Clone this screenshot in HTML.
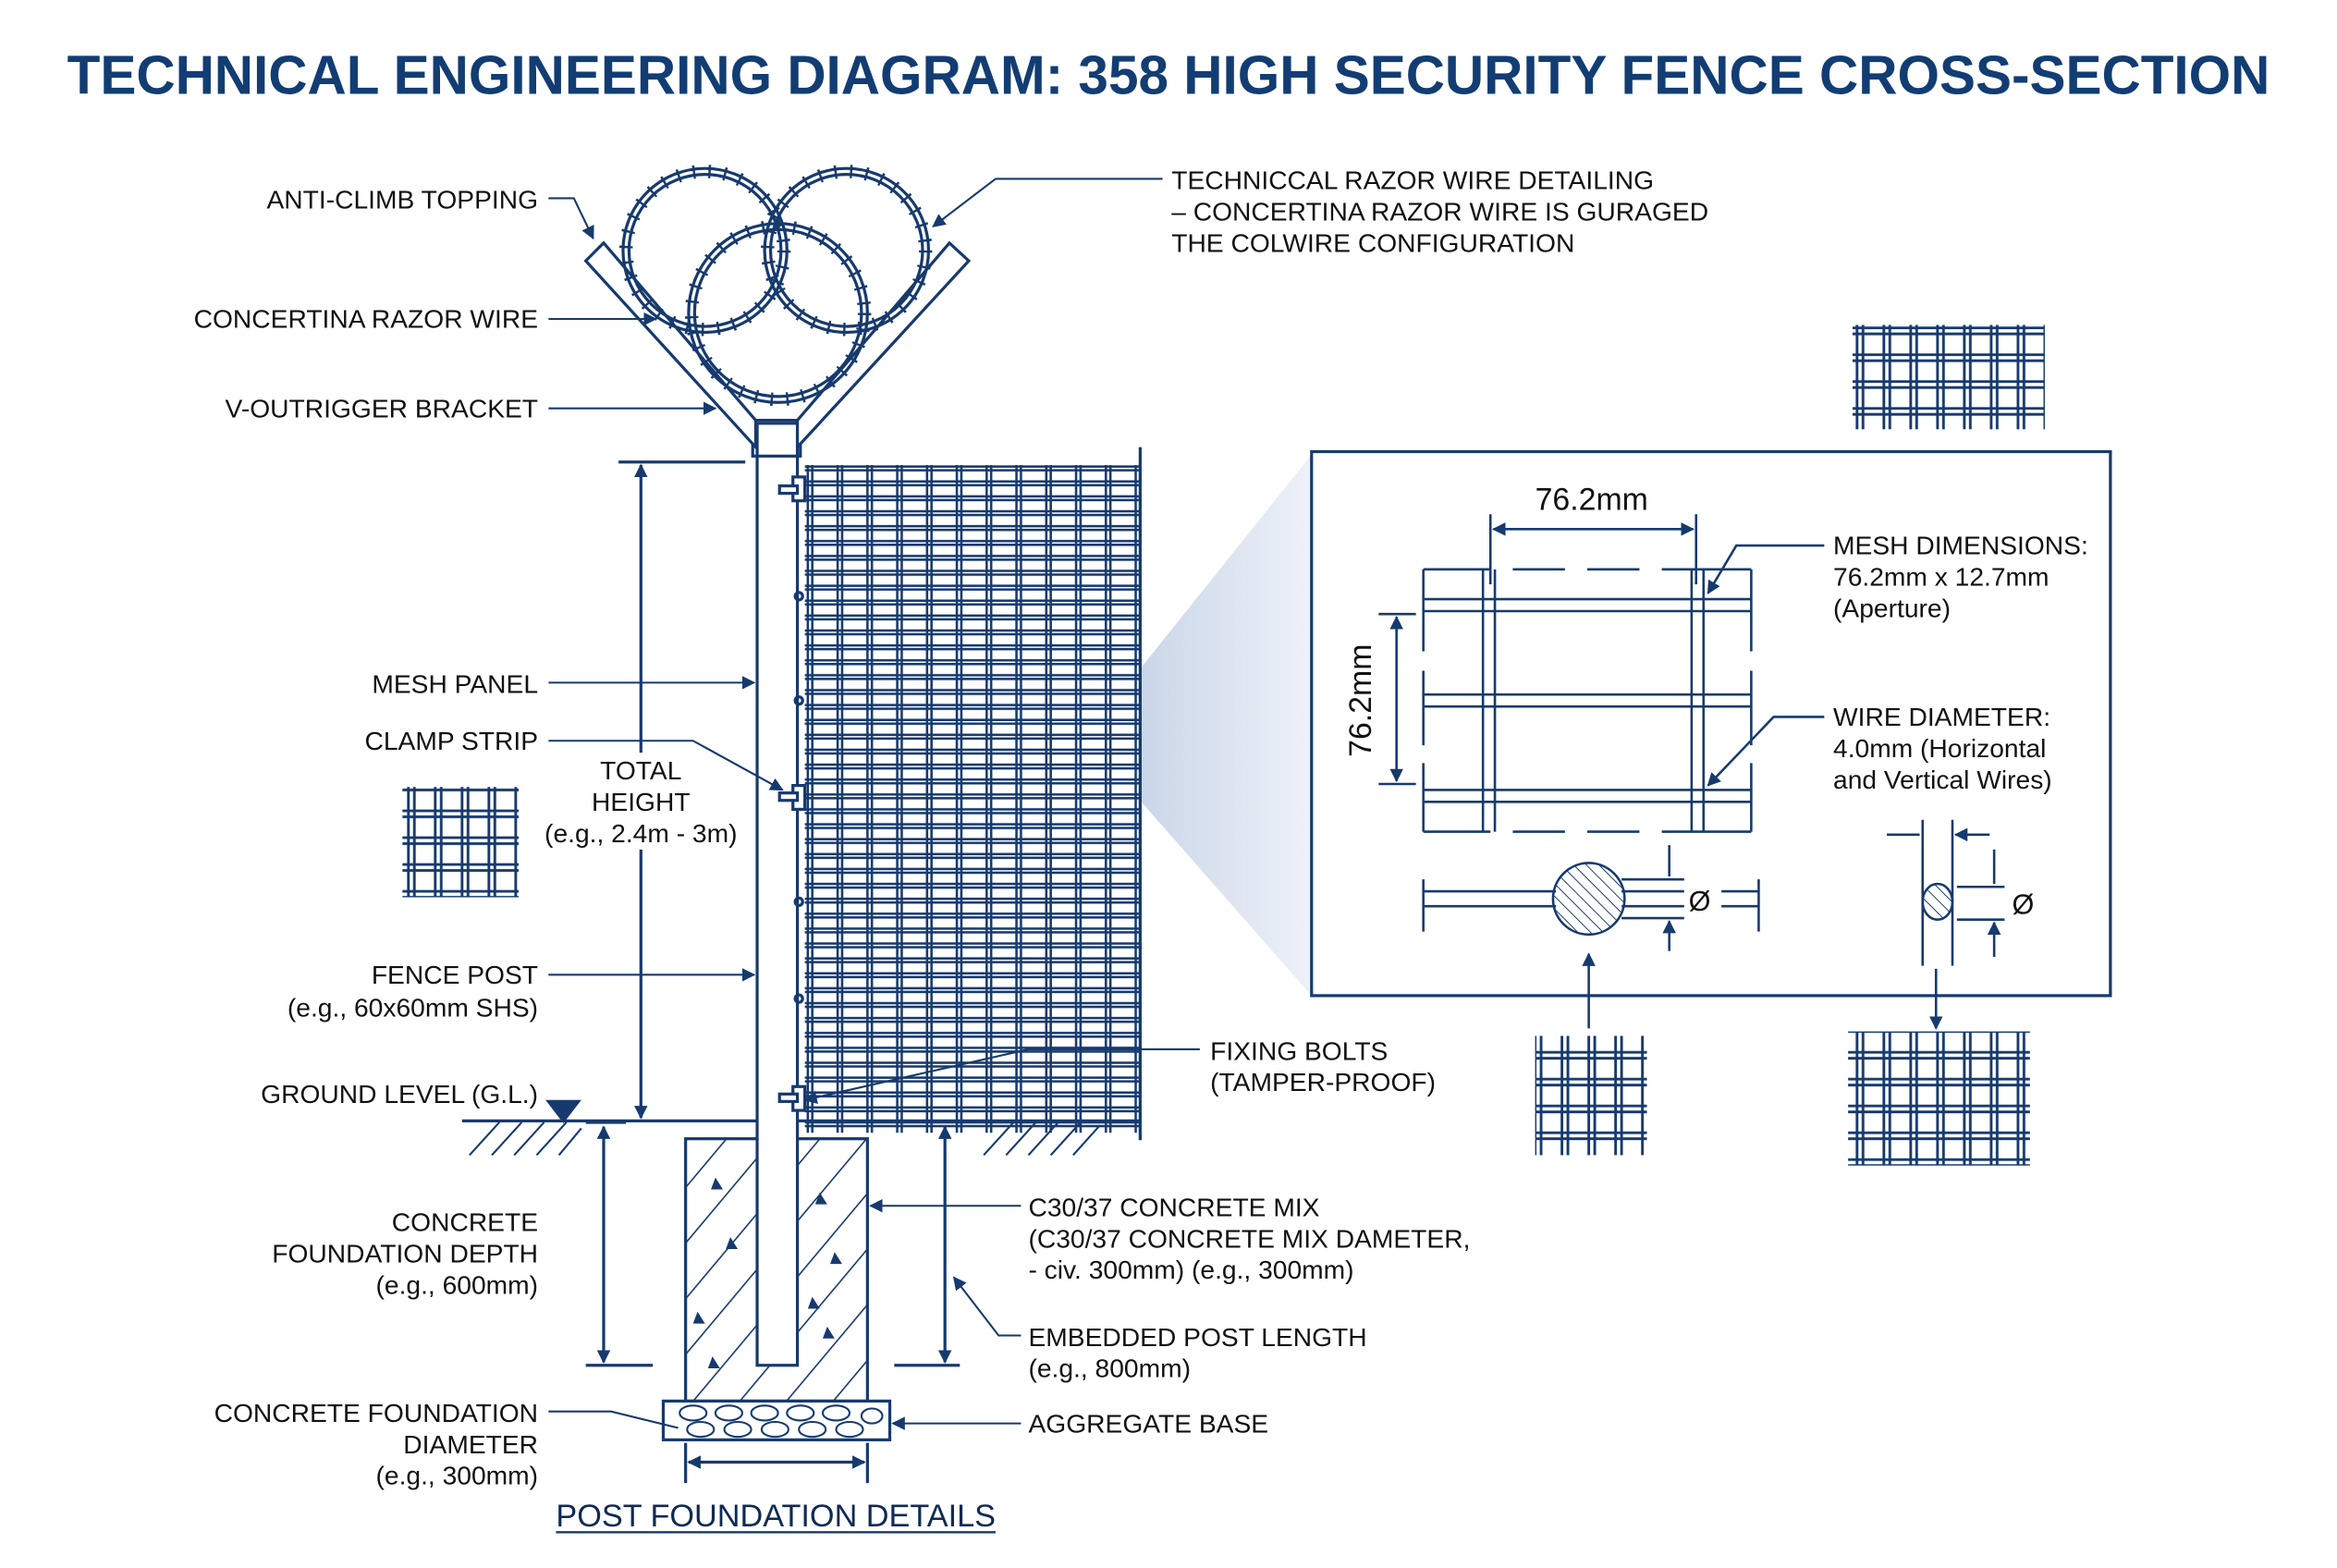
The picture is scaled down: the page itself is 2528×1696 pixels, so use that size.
<!DOCTYPE html>
<html><head><meta charset="utf-8"><style>
html,body{margin:0;padding:0;background:#fff;}
svg{display:block;}
text{font-family:"Liberation Sans",sans-serif;fill:#111;}
</style></head><body>
<svg width="2528" height="1696" viewBox="0 0 1568 1052" xmlns="http://www.w3.org/2000/svg">
<defs>
<marker id="a" viewBox="0 0 10 10" refX="9" refY="5" markerWidth="9" markerHeight="9" orient="auto-start-reverse" markerUnits="userSpaceOnUse"><path d="M0,0 L10,5 L0,10 z" fill="#173a6e"/></marker>
<pattern id="mesh" x="540" y="312" width="20" height="10" patternUnits="userSpaceOnUse"><rect x="0" y="0" width="20" height="10" fill="#fff"/><path d="M0,1 H20 M0,3.5 H20 M2,0 V10 M5,0 V10" stroke="#173a6e" stroke-width="1.6" fill="none"/></pattern>
<pattern id="hatch" width="24" height="24" patternUnits="userSpaceOnUse" patternTransform="rotate(40)"><rect width="24" height="24" fill="#fff"/><path d="M0,0 V24" stroke="#173a6e" stroke-width="2"/></pattern>
<pattern id="h2" width="6" height="6" patternUnits="userSpaceOnUse" patternTransform="rotate(-45)"><path d="M0,0 V6" stroke="#173a6e" stroke-width="1.2"/></pattern>
<pattern id="weave" width="18" height="18" patternUnits="userSpaceOnUse"><path d="M0,4 H18 M0,8 H18 M4,0 V18 M8,0 V18" stroke="#173a6e" stroke-width="1.8" fill="none"/></pattern>
<linearGradient id="wedge" x1="0" x2="1"><stop offset="0" stop-color="#8fa8cf" stop-opacity="0.6"/><stop offset="1" stop-color="#dbe3f1" stop-opacity="0.5"/></linearGradient>
</defs>
<rect width="1568" height="1052" fill="#fff"/>
<text x="784" y="63" text-anchor="middle" font-size="37" font-weight="bold" style="fill:#123d73" textLength="1478" lengthAdjust="spacingAndGlyphs">TECHNICAL ENGINEERING DIAGRAM: 358 HIGH SECURITY FENCE CROSS-SECTION</text>

<g stroke="#173a6e" fill="none" stroke-width="2">
<polygon points="728,495 880,305 880,668" fill="url(#wedge)" stroke="none"/>
<rect x="540" y="312" width="225" height="448" fill="url(#mesh)" stroke="none"/>
<path d="M765,300 V765"/>
<path d="M310,752 H765"/>
<path d="M315,775 l20,-22 M330,775 l20,-22 M345,775 l20,-22 M360,775 l20,-22 M375,775 l15,-18 M660,775 l20,-22 M675,775 l20,-22 M690,775 l20,-22 M705,775 l20,-22 M720,775 l18,-20" stroke-width="1.3"/>
<polygon points="368,739 388,739 378,752" fill="#173a6e"/>
<rect x="460" y="764" width="122" height="176" fill="url(#hatch)"/>
<g fill="#173a6e" stroke="none">
<path d="M480,790 l5,8 h-8z M490,830 l5,8 h-8z M468,880 l5,8 h-8z M478,910 l5,8 h-8z M550,800 l5,8 h-8z M560,840 l5,8 h-8z M555,890 l5,8 h-8z M545,870 l5,8 h-8z"/>
</g>
<rect x="445" y="940" width="152" height="26" fill="#fff"/>
<g stroke-width="1.3">
<ellipse cx="465" cy="948" rx="9" ry="5"/><ellipse cx="489" cy="948" rx="9" ry="5"/><ellipse cx="513" cy="948" rx="9" ry="5"/><ellipse cx="537" cy="948" rx="9" ry="5"/><ellipse cx="561" cy="948" rx="9" ry="5"/><ellipse cx="585" cy="950" rx="7" ry="5"/>
<ellipse cx="470" cy="959" rx="9" ry="5"/><ellipse cx="495" cy="959" rx="9" ry="5"/><ellipse cx="520" cy="959" rx="9" ry="5"/><ellipse cx="545" cy="959" rx="9" ry="5"/><ellipse cx="570" cy="959" rx="9" ry="5"/>
</g>
<rect x="508" y="284" width="27" height="632" fill="#fff"/>
<rect x="505" y="282" width="32" height="24" fill="none"/>
<circle cx="536" cy="400" r="2.5"/><circle cx="536" cy="470" r="2.5"/><circle cx="536" cy="605" r="2.5"/><circle cx="536" cy="670" r="2.5"/>
<g fill="#fff"><rect x="532" y="320" width="8" height="16"/><rect x="523" y="326" width="12" height="5"/>
<rect x="532" y="527" width="8" height="16"/><rect x="523" y="532" width="12" height="5"/>
<rect x="532" y="729" width="8" height="16"/><rect x="523" y="734" width="12" height="5"/></g>
<polygon points="393,175 405,163 507,282 507,300" fill="#fff"/>
<polygon points="650,175 637,163 535,282 535,300" fill="#fff"/>
<g>
<circle cx="473" cy="168" r="55"/><circle cx="473" cy="168" r="51"/><circle cx="473" cy="168" r="53" stroke-width="9" stroke-dasharray="1.5 9"/>
<circle cx="568" cy="168" r="55"/><circle cx="568" cy="168" r="51"/><circle cx="568" cy="168" r="53" stroke-width="9" stroke-dasharray="1.5 9"/>
<circle cx="522" cy="210" r="60"/><circle cx="522" cy="210" r="56"/><circle cx="522" cy="210" r="58" stroke-width="9" stroke-dasharray="1.5 9"/>
</g>
<path d="M415,310 H500"/>
<path d="M430,312 V505 M430,570 V750" marker-start="url(#a)" marker-end="url(#a)"/>
<path d="M393,753 H420 M393,916 H438"/>
<path d="M405,756 V914" marker-start="url(#a)" marker-end="url(#a)"/>
<path d="M600,916 H644"/>
<path d="M634,756 V914" marker-start="url(#a)" marker-end="url(#a)"/>
<path d="M460,968 V995 M582,968 V995"/>
<path d="M462,981 H580" marker-start="url(#a)" marker-end="url(#a)"/>
<path d="M373,1028 H668" stroke-width="1.5"/>
<g stroke-width="1.3">
<path d="M368,133 H385 L398,160" marker-end="url(#a)"/>
<path d="M368,214 H440" marker-end="url(#a)"/>
<path d="M368,274 H480" marker-end="url(#a)"/>
<path d="M368,458 H506" marker-end="url(#a)"/>
<path d="M368,497 H465 L525,530" marker-end="url(#a)"/>
<path d="M368,654 H506" marker-end="url(#a)"/>
<path d="M368,947 H410 L455,958"/>
<path d="M780,120 H668 L626,152" marker-end="url(#a)"/>
<path d="M805,704 H690 L540,738" marker-end="url(#a)"/>
<path d="M685,809 H584" marker-end="url(#a)"/>
<path d="M685,896 H670 L640,857" marker-end="url(#a)"/>
<path d="M685,955 H599" marker-end="url(#a)"/>
</g>
<rect x="880" y="303" width="536" height="365" fill="none"/>
<g stroke-width="1.6">
<path d="M955,382 H1000 M1015,382 H1050 M1065,382 H1100 M1115,382 H1175 M955,558 H1000 M1015,558 H1050 M1065,558 H1100 M1115,558 H1175"/>
<path d="M955,382 V437 M955,450 V500 M955,512 V558 M1175,382 V437 M1175,450 V500 M1175,512 V558"/>
<path d="M955,402 H1175 M955,410 H1175 M955,466 H1175 M955,474 H1175 M955,530 H1175 M955,538 H1175"/>
<path d="M995,382 V558 M1003,382 V558 M1135,382 V558 M1143,382 V558"/>
<path d="M1000,345 V392 M1138,345 V392"/>
<path d="M1002,355 H1136" marker-start="url(#a)" marker-end="url(#a)"/>
<path d="M925,412 H950 M925,526 H950"/>
<path d="M937,414 V524" marker-start="url(#a)" marker-end="url(#a)"/>
<path d="M1224,366 H1165 L1146,398" marker-end="url(#a)"/>
<path d="M1224,481 H1190 L1146,527" marker-end="url(#a)"/>
<path d="M955,598 H1044 M955,608 H1044 M1088,590 H1130 M1088,598 H1130 M1088,608 H1130 M1088,616 H1130 M1155,598 H1180 M1155,608 H1180"/>
<path d="M955,590 V625 M1180,590 V625"/>
<ellipse cx="1066" cy="603" rx="24" ry="24" fill="url(#h2)"/>
<path d="M1120,567 V588 M1120,638 V618" marker-end="url(#a)"/>
<path d="M1066,690 V640" marker-end="url(#a)"/>
<path d="M1290,550 V648 M1310,550 V648"/>
<ellipse cx="1300" cy="605" rx="10" ry="12" fill="url(#h2)"/>
<path d="M1266,560 H1288 M1335,560 H1312" marker-end="url(#a)"/>
<path d="M1313,595 H1345 M1313,617 H1345"/>
<path d="M1338,570 V593 M1338,642 V619" marker-end="url(#a)"/>
<path d="M1299,650 V690" marker-end="url(#a)"/>
</g>
<rect x="1243" y="218" width="129" height="70" fill="url(#weave)" stroke="none"/>
<rect x="270" y="528" width="78" height="74" fill="url(#weave)" stroke="none"/>
<rect x="1030" y="695" width="75" height="80" fill="url(#weave)" stroke="none"/>
<rect x="1240" y="692" width="122" height="90" fill="url(#weave)" stroke="none"/>
</g>

<g font-size="17.5" text-anchor="end">
<text x="361" y="140">ANTI-CLIMB TOPPING</text>
<text x="361" y="220">CONCERTINA RAZOR WIRE</text>
<text x="361" y="280">V-OUTRIGGER BRACKET</text>
<text x="361" y="465">MESH PANEL</text>
<text x="361" y="503">CLAMP STRIP</text>
<text x="361" y="660">FENCE POST</text>
<text x="361" y="682">(e.g., 60x60mm SHS)</text>
<text x="361" y="740">GROUND LEVEL (G.L.)</text>
<text x="361" y="826">CONCRETE</text>
<text x="361" y="847">FOUNDATION DEPTH</text>
<text x="361" y="868">(e.g., 600mm)</text>
<text x="361" y="954">CONCRETE FOUNDATION</text>
<text x="361" y="975">DIAMETER</text>
<text x="361" y="996">(e.g., 300mm)</text>
</g>
<g font-size="17.5" text-anchor="middle">
<text x="430" y="523">TOTAL</text>
<text x="430" y="544">HEIGHT</text>
<text x="430" y="565">(e.g., 2.4m - 3m)</text>
</g>
<g font-size="17.5">
<text x="786" y="127">TECHNICCAL RAZOR WIRE DETAILING</text>
<text x="786" y="148">– CONCERTINA RAZOR WIRE IS GURAGED</text>
<text x="786" y="169">THE COLWIRE CONFIGURATION</text>
<text x="812" y="711">FIXING BOLTS</text>
<text x="812" y="732">(TAMPER-PROOF)</text>
<text x="690" y="816">C30/37 CONCRETE MIX</text>
<text x="690" y="837">(C30/37 CONCRETE MIX DAMETER,</text>
<text x="690" y="858">- civ. 300mm) (e.g., 300mm)</text>
<text x="690" y="903">EMBEDDED POST LENGTH</text>
<text x="690" y="924">(e.g., 800mm)</text>
<text x="690" y="961">AGGREGATE BASE</text>
<text x="1230" y="372">MESH DIMENSIONS:</text>
<text x="1230" y="393">76.2mm x 12.7mm</text>
<text x="1230" y="414">(Aperture)</text>
<text x="1230" y="487">WIRE DIAMETER:</text>
<text x="1230" y="508">4.0mm (Horizontal</text>
<text x="1230" y="529">and Vertical Wires)</text>
<text x="1133" y="611" font-size="19">Ø</text>
<text x="1350" y="613" font-size="19">Ø</text>
<text x="1030" y="342" font-size="21">76.2mm</text>
<text x="920" y="470" font-size="21" text-anchor="middle" transform="rotate(-90 920 470)">76.2mm</text>
<text x="373" y="1024" font-size="21" style="fill:#0f2a55" textLength="295" lengthAdjust="spacingAndGlyphs">POST FOUNDATION DETAILS</text>
</g>
</svg>
</body></html>
